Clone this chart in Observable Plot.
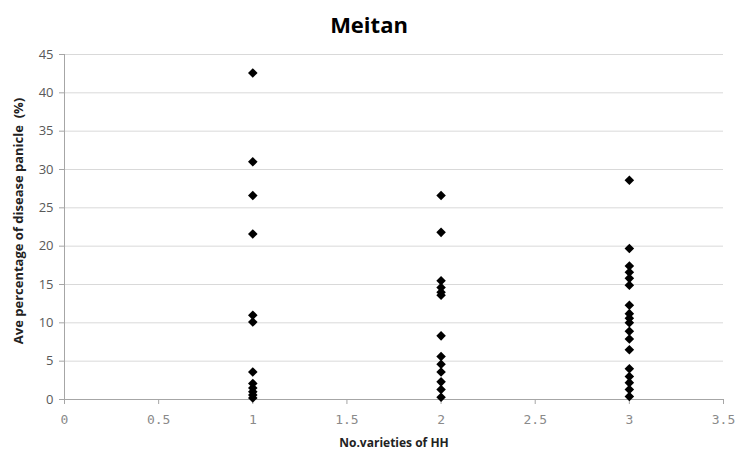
<!DOCTYPE html>
<html>
<head>
<meta charset="utf-8">
<script src="https://cdn.jsdelivr.net/npm/d3@7"></script>
<script src="https://cdn.jsdelivr.net/npm/@observablehq/plot@0.6"></script>
<style>
  body { margin: 0; background: #fff; }
  #chart svg { display: block; }
</style>
</head>
<body>
<div id="chart"></div>
<script>
const title = "Meitan";
const xLabel = "No.varieties of HH";
const yLabel = "Ave percentage of disease panicle  (%)";
const xTicks = [0, 0.5, 1, 1.5, 2, 2.5, 3, 3.5];
const yTicks = [0, 5, 10, 15, 20, 25, 30, 35, 40, 45];

const values1 = [42.6, 31.0, 26.6, 21.6, 11.0, 10.1, 3.6, 2.1, 1.5, 1.0, 0.6, 0.2];
const values2 = [26.6, 21.8, 15.5, 14.6, 14.0, 13.6, 8.3, 5.6, 4.6, 3.6, 2.3, 1.3, 0.3];
const values3 = [28.6, 19.7, 17.4, 16.6, 15.8, 14.9, 12.3, 11.2, 10.6, 10.0, 8.9, 7.9, 6.5, 4.0, 3.0, 2.2, 1.3, 0.4];

const data = [
  ...values1.map(v => ({x: 1, y: v})),
  ...values2.map(v => ({x: 2, y: v})),
  ...values3.map(v => ({x: 3, y: v}))
];

const chart = Plot.plot({
  width: 737,
  height: 469,
  marginLeft: 64,
  marginRight: 14,
  marginTop: 54,
  marginBottom: 70,
  style: {fontFamily: "'Open Sans', sans-serif", background: "#fff"},
  x: {domain: [0, 3.5]},
  y: {domain: [0, 45]},
  marks: [
    Plot.gridY(yTicks, {stroke: "#d9d9d9", strokeOpacity: 1}),
    Plot.axisY(yTicks, {tickSize: 5, stroke: "#a6a6a6", color: "#595959", fontSize: 13, tickPadding: 6, label: null}),
    Plot.axisX(xTicks, {tickSize: 5, stroke: "#a6a6a6", color: "#8a8a8a", fontSize: 13, tickPadding: 10, label: null,
      tickFormat: d => String(d), fontFamily: "'DejaVu Sans Mono', monospace", fontWeight: 300}),
    Plot.ruleY([0], {stroke: "#a6a6a6"}),
    Plot.ruleX([0], {stroke: "#a6a6a6"}),
    Plot.dot(data, {x: "x", y: "y", symbol: "diamond2", r: 4.3, fill: "#000", stroke: "none"}),
    Plot.text([title], {frameAnchor: "top", dx: -25, dy: -37, fontSize: 22, fontWeight: "bold", fill: "#000"}),
    Plot.text([xLabel], {frameAnchor: "bottom", dy: 47, fontSize: 12, fontWeight: "bold", fill: "#222"}),
    Plot.text([yLabel], {frameAnchor: "left", dx: -46, dy: -6, rotate: -90, textAnchor: "middle", fontSize: 13, fontWeight: "bold", fill: "#222", letterSpacing: "0.4px"})
  ]
});
document.getElementById("chart").appendChild(chart);
</script>
</body>
</html>
